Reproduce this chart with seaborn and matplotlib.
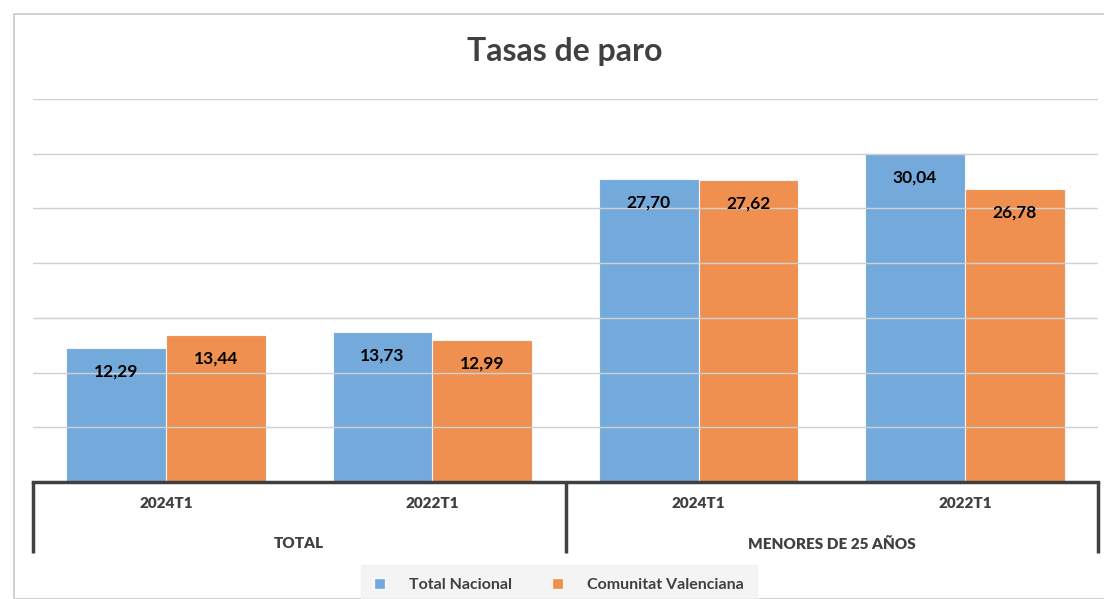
from matplotlib import pyplot as plt
from matplotlib.patches import Patch, Rectangle
import seaborn as sns
import pandas as pd

# data
groups = ['TOTAL', 'TOTAL', 'MENORES DE 25 AÑOS', 'MENORES DE 25 AÑOS']
periods = ['2024T1', '2022T1', '2024T1', '2022T1']
series = ['Total Nacional', 'Comunitat Valenciana']
total_nacional = [12.29, 13.73, 27.70, 30.04]
comunitat_valenciana = [13.44, 12.99, 27.62, 26.78]

keys = [g + ' ' + p for g, p in zip(groups, periods)]
df = pd.DataFrame({
    'cat': keys * 2,
    'serie': [series[0]] * 4 + [series[1]] * 4,
    'valor': total_nacional + comunitat_valenciana,
})

sns.set_theme(style='white')
plt.rcParams['font.family'] = ['Lato', 'DejaVu Sans']

W, H = 1104, 599
fig = plt.figure(figsize=(W / 100, H / 100), dpi=100)
ax = fig.add_axes([33 / W, 1 - 482 / H, (1098 - 33) / W, (482 - 99) / H])

colors = {series[0]: '#5B9BD5', series[1]: '#ED7D31'}
sns.barplot(data=df, x='cat', y='valor', hue='serie', order=keys, hue_order=series,
            palette=colors, saturation=1, width=0.75, alpha=0.85, edgecolor='white',
            linewidth=0.8, legend=False, ax=ax)

ax.set_ylim(0, 35)
ax.set_xlim(-0.5, 3.5)
ax.set_yticks(range(0, 36, 5))
ax.yaxis.grid(True, color='#d0d0d0', linewidth=1, zorder=4)
ax.set_axisbelow(False)
for b in ax.patches:
    b.set_zorder(2)
ax.set_yticklabels([])
ax.tick_params(left=False, bottom=False)
ax.set_xticklabels([])
ax.set_xlabel('')
ax.set_ylabel('')
for s in ['top', 'right', 'left']:
    ax.spines[s].set_visible(False)
ax.spines['bottom'].set_color('#404040')
ax.spines['bottom'].set_linewidth(2.5)
ax.spines['bottom'].set_zorder(6)

for container in ax.containers:
    labels = [f'{v:.2f}'.replace('.', ',') for v in container.datavalues]
    ax.bar_label(container, labels=labels, label_type='edge', padding=-23,
                 fontsize=12.5, fontweight='bold', color='black', zorder=7)

# multi-level x axis
tr = ax.get_xaxis_transform()
for x in [-0.5, 1.5, 3.5]:
    ax.plot([x, x], [0, -71 / 383], transform=tr, color='#404040', lw=2.5,
            clip_on=False, solid_capstyle='butt')
for i, p in enumerate(periods):
    ax.text(i, -21 / 383, p, transform=tr, ha='center', va='center',
            fontsize=11, fontweight='heavy', color='#404040')
ax.text(0.5, -62 / 383, 'TOTAL', transform=tr, ha='center', va='center',
        fontsize=11, fontweight='heavy', color='#404040')
ax.text(2.5, -62 / 383, 'MENORES DE 25 AÑOS', transform=tr, ha='center', va='center',
        fontsize=11, fontweight='heavy', color='#404040')

# title
fig.text(565 / W, 1 - 52 / H, 'Tasas de paro', ha='center', va='center',
         fontsize=23, fontweight='bold', color='#404040')

# outer frame
fig.patches.append(Rectangle((14 / W, 0), 1.2, 1 - 14 / H, transform=fig.transFigure,
                             fill=False, edgecolor='#c8c8c8', lw=1.2))

# legend
handles = [Patch(facecolor=colors[s], alpha=0.85, label=s) for s in series]
leg = fig.legend(handles=handles, loc='lower center', bbox_to_anchor=(559 / W, -0.01),
                 ncol=2, frameon=True, fontsize=11.5, handlelength=0.7, handleheight=0.7,
                 columnspacing=2.5, handletextpad=1.5, borderpad=0.8, borderaxespad=0,
                 fancybox=False)
leg.get_frame().set_facecolor('#f2f2f2')
leg.get_frame().set_edgecolor('#f2f2f2')
for t in leg.get_texts():
    t.set_fontweight('bold')
    t.set_color('#404040')

fig.savefig('out.png', dpi=100)
